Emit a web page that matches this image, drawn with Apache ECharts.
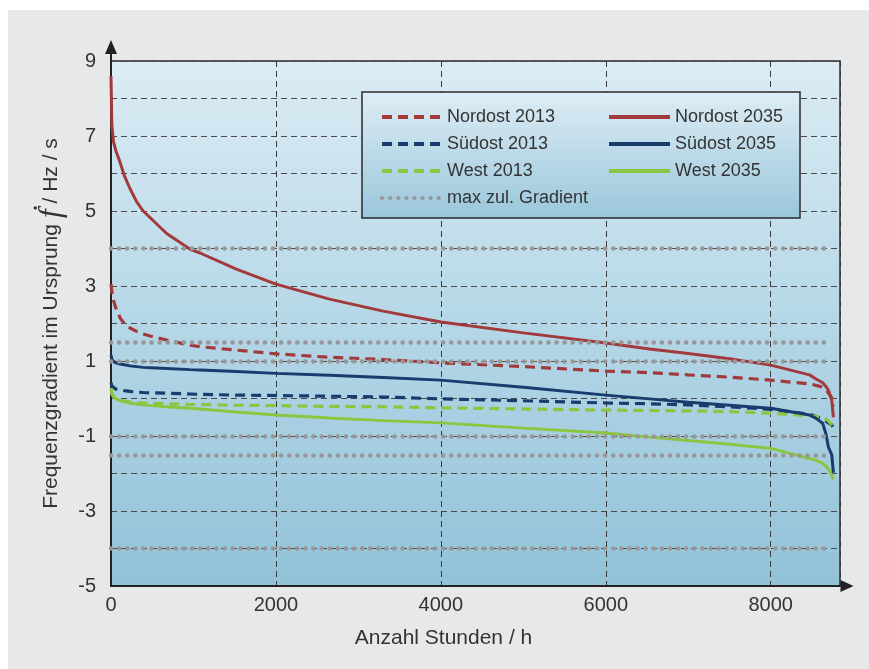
<!DOCTYPE html>
<html>
<head>
<meta charset="utf-8">
<script src="https://cdn.jsdelivr.net/npm/echarts@6/dist/echarts.min.js"></script>
<style>
html,body{margin:0;padding:0;background:#fff;}
#chart{width:869px;height:669px;}
</style>
</head>
<body>
<div id="chart"></div>
<script>
// ---- data ----
const hours       = [0, 10, 30, 60, 110, 160, 230, 310, 390, 485, 675, 960, 1080, 1520, 2000, 2650, 3300, 4000, 5000, 6000, 6530, 7000, 7500, 8000, 8470, 8550, 8630, 8670, 8700, 8740, 8760];
const nordost2013 = [3.05, 2.85, 2.62, 2.4, 2.15, 2.0, 1.88, 1.79, 1.72, 1.66, 1.56, 1.42, 1.38, 1.29, 1.19, 1.1, 1.04, 0.95, 0.85, 0.73, 0.69, 0.63, 0.57, 0.49, 0.39, 0.35, 0.3, 0.23, 0.15, 0.02, -0.2];
const nordost2035 = [8.6, 7.3, 6.85, 6.6, 6.3, 5.95, 5.6, 5.25, 5.0, 4.8, 4.4, 3.98, 3.88, 3.45, 3.05, 2.65, 2.33, 2.04, 1.75, 1.48, 1.32, 1.2, 1.06, 0.89, 0.63, 0.52, 0.42, 0.32, 0.22, -0.05, -0.5];
const suedost2013 = [0.42, 0.33, 0.28, 0.25, 0.23, 0.21, 0.19, 0.17, 0.16, 0.15, 0.14, 0.12, 0.11, 0.09, 0.08, 0.06, 0.04, -0.01, -0.06, -0.12, -0.14, -0.17, -0.22, -0.29, -0.42, -0.48, -0.55, -0.6, -0.65, -0.7, -0.78];
const suedost2035 = [1.16, 1.05, 0.99, 0.95, 0.92, 0.9, 0.87, 0.85, 0.83, 0.82, 0.8, 0.77, 0.76, 0.72, 0.67, 0.62, 0.56, 0.49, 0.3, 0.09, -0.01, -0.1, -0.18, -0.26, -0.44, -0.53, -0.66, -0.95, -1.3, -1.5, -1.98];
const west2013    = [0.22, 0.12, 0.05, 0.0, -0.04, -0.07, -0.09, -0.11, -0.12, -0.13, -0.14, -0.16, -0.16, -0.18, -0.19, -0.21, -0.22, -0.25, -0.28, -0.31, -0.32, -0.33, -0.35, -0.39, -0.46, -0.48, -0.5, -0.55, -0.6, -0.7, -0.8];
const west2035    = [0.28, 0.15, 0.05, -0.01, -0.06, -0.09, -0.12, -0.15, -0.17, -0.19, -0.22, -0.26, -0.28, -0.36, -0.44, -0.52, -0.59, -0.65, -0.79, -0.92, -1.03, -1.12, -1.22, -1.33, -1.6, -1.65, -1.73, -1.81, -1.88, -2.05, -2.15];
const gradientLimits = [4, 1.5, 1, -1, -1.5, -4];
const gradientLimitEnd = 8740;
const yTickLabels = [9, 7, 5, 3, 1, -1, -3, -5];
const xTickLabels = [0, 2000, 4000, 6000, 8000];

// ---- styles ----
const RED = '#a23a3b', NAVY = '#173c6d', GREEN = '#8cc540', GRAY = '#979797';
const FONT = '"Liberation Sans", Arial, Helvetica, sans-serif';
const DASH = [10, 6];

function pairs(vals) { return hours.map((h, i) => [h, vals[i]]); }
function lineSeries(name, vals, color, dashed) {
  return {
    name: name, type: 'line', data: pairs(vals), symbol: 'none', smooth: false,
    lineStyle: { color: color, width: dashed ? 3.2 : 3, type: dashed ? DASH : 'solid' },
    itemStyle: { color: color }, z: 3, animation: false
  };
}
function legendBlock(left, names, width) {
  return {
    z: 20, orient: 'vertical', left: left, top: 108, padding: 0,
    itemWidth: width, itemHeight: 18, itemGap: 9, data: names,
    lineStyle: { width: 4 }, itemStyle: { opacity: 0 },
    textStyle: { fontSize: 18, color: '#333', fontFamily: FONT, lineHeight: 18 },
    selectedMode: false
  };
}

const chart = echarts.init(document.getElementById('chart'), null, { renderer: 'canvas' });
const option = {
  backgroundColor: '#ffffff',
  animation: false,
  textStyle: { fontFamily: FONT },
  graphic: [
    { type: 'rect', z: -100, shape: { x: 8, y: 10, width: 861, height: 659 }, style: { fill: '#e7e8ea' } },
    { type: 'rect', z: 9, shape: { x: 362, y: 92, width: 438, height: 126 },
      style: { fill: { type: 'linear', x: 0, y: 0, x2: 0, y2: 1,
        colorStops: [{ offset: 0, color: '#deedf5' }, { offset: 1, color: '#9ac6db' }] },
        stroke: '#2a2a2a', lineWidth: 1.5 } }
  ],
  grid: {
    left: 111, right: 29, top: 61, bottom: 83, show: true,
    borderColor: '#2a2a2a', borderWidth: 1.5,
    backgroundColor: { type: 'linear', x: 0, y: 0, x2: 0, y2: 1,
      colorStops: [{ offset: 0, color: '#dcecf4' }, { offset: 0.5, color: '#b5d7e7' }, { offset: 1, color: '#92c2d7' }] }
  },
  legend: [
    legendBlock(380, ['Nordost 2013', 'Südost 2013', 'West 2013', 'max zul. Gradient'], 60),
    legendBlock(607, ['Nordost 2035', 'Südost 2035', 'West 2035'], 61)
  ],
  xAxis: {
    type: 'value', min: 0, max: 8840, interval: 2000,
    name: 'Anzahl Stunden / h', nameLocation: 'middle', nameGap: 42,
    nameTextStyle: { fontSize: 21, color: '#333', fontFamily: FONT, padding: [0, 64, 0, 0] },
    axisLine: { show: true, onZero: false, lineStyle: { color: '#222', width: 2 },
      symbol: ['none', 'path://M6,0 L12,13 L0,13 Z'], symbolSize: [12, 13], symbolOffset: [0, 7] },
    axisTick: { show: false },
    axisLabel: { fontSize: 20, color: '#333', margin: 9, fontFamily: FONT,
      formatter: v => xTickLabels.indexOf(v) >= 0 ? String(v) : '' },
    splitLine: { show: true, lineStyle: { color: '#3a3a3a', width: 1, type: [6, 4] } }
  },
  yAxis: {
    type: 'value', min: -5, max: 9, interval: 1,
    name: 'Frequenzgradient im Ursprung {f|ḟ} / Hz / s', nameLocation: 'middle', nameGap: 42,
    nameTextStyle: { fontSize: 21, color: '#333', fontFamily: FONT,
      rich: { f: { fontSize: 32, fontStyle: 'italic', fontFamily: '"Liberation Serif", "DejaVu Serif", serif', color: '#333' } } },
    axisLine: { show: true, onZero: false, lineStyle: { color: '#222', width: 2 },
      symbol: ['none', 'path://M6,0 L12,14 L7,14 L7,22 L5,22 L5,14 L0,14 Z'], symbolSize: [12, 22], symbolOffset: [0, 10] },
    axisTick: { show: false },
    axisLabel: { fontSize: 20, color: '#333', margin: 15, fontFamily: FONT,
      formatter: v => yTickLabels.indexOf(v) >= 0 ? String(v) : '' },
    splitLine: { show: true, lineStyle: { color: '#4a4a4a', width: 1, type: [6, 4] } }
  },
  series: [
    {
      name: 'max zul. Gradient', type: 'line', data: [], symbol: 'none', z: 2,
      lineStyle: { color: GRAY, width: 4.5, type: [0.1, 8], cap: 'round' },
      itemStyle: { color: GRAY },
      markLine: {
        silent: true, symbol: ['none', 'none'], label: { show: false }, animation: false,
        lineStyle: { color: GRAY, width: 4.5, type: [0.1, 8], cap: 'round' },
        data: gradientLimits.map(v => [{ coord: [0, v] }, { coord: [gradientLimitEnd, v] }])
      }
    },
    lineSeries('Nordost 2013', nordost2013, RED, true),
    lineSeries('Südost 2013', suedost2013, NAVY, true),
    lineSeries('West 2013', west2013, GREEN, true),
    lineSeries('West 2035', west2035, GREEN, false),
    lineSeries('Südost 2035', suedost2035, NAVY, false),
    lineSeries('Nordost 2035', nordost2035, RED, false)
  ]
};
chart.setOption(option);
</script>
</body>
</html>
